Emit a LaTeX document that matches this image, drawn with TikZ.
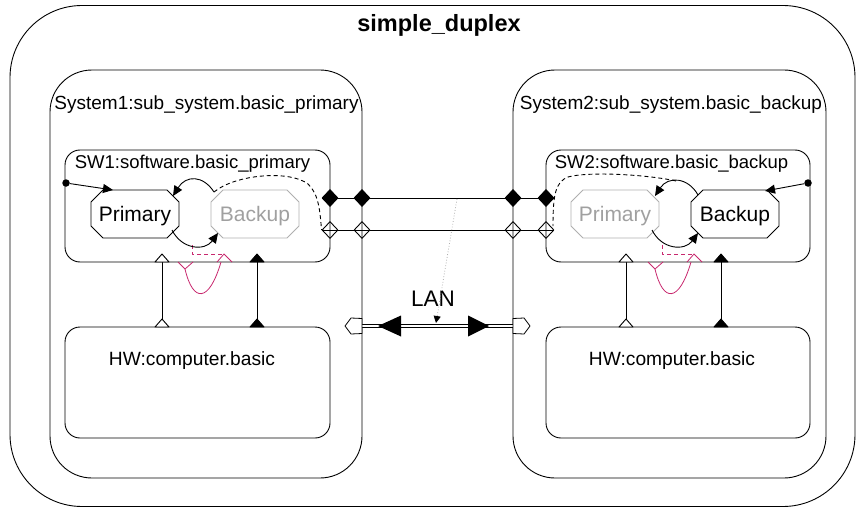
\documentclass[tikz,border=0pt]{standalone}
\usepackage{fontspec}
\setmainfont{Liberation Sans}
\usetikzlibrary{arrows.meta,shapes.geometric}
\definecolor{mg}{RGB}{200,40,110}
\definecolor{ghosttext}{RGB}{160,160,160}
\definecolor{ghostline}{RGB}{175,175,175}
\begin{document}
\begin{tikzpicture}[x=1pt,y=-1pt,line width=0.9pt,line join=round,
  box/.style={draw,rounded corners=#1,inner sep=0pt,outer sep=0pt},
  lbl/.style={inner sep=0pt,anchor=base,font=\fontsize{19}{21}\selectfont},
  swlbl/.style={inner sep=0pt,anchor=base,font=\fontsize{18.5}{20}\selectfont},
  hwlbl/.style={inner sep=0pt,anchor=base,font=\fontsize{19.2}{21}\selectfont},
  stlbl/.style={inner sep=0pt,anchor=base,font=\fontsize{21}{23}\selectfont},
  statebox/.style={inner sep=0pt,outer sep=0pt,minimum width=88pt,minimum height=48pt},
  arr/.style={-{Triangle[length=10pt,width=9pt]}},
  fdia/.style={diamond,draw,fill=black,inner sep=0pt,minimum width=16pt,minimum height=17pt},
  hdia/.style={diamond,draw,inner sep=0pt,minimum width=16pt,minimum height=17pt},
  initdot/.style={circle,fill=black,inner sep=0pt,minimum size=7.5pt},
  mgdash/.style={mg,dash pattern=on 4pt off 3pt},
  bkdash/.style={dash pattern=on 4pt off 3pt},
  octo/.pic={\path[pic actions] (-32,-24) -- (32,-24) -- (44,-12) -- (44,12) -- (32,24) -- (-32,24) -- (-44,12) -- (-44,-12) -- cycle;},
  hd/.pic={\path[pic actions] (-7,0) -- (0,-8) -- (7,0) -- cycle;}
]
\useasboundingbox (0,0) rectangle (856,508);

% outer component
\node[box=72pt,minimum width=845pt,minimum height=501pt] (top) at (432.5,256) {};
\node[font=\bfseries\fontsize{23.5}{25}\selectfont,anchor=base,inner sep=0pt] (title) at (439,32) {simple\_duplex};

% subsystems
\node[box=42pt,minimum width=312pt,minimum height=408pt] (S1) at (206,274) {};
\node[box=42pt,minimum width=313pt,minimum height=408pt] (S2) at (669.5,274) {};
\node[lbl] (S1l) at (206.5,110) {System1:sub\_system.basic\_primary};
\node[lbl] (S2l) at (671,110) {System2:sub\_system.basic\_backup};

% software boxes
\node[box=15pt,minimum width=265pt,minimum height=112pt] (SW1) at (197.5,206) {};
\node[box=15pt,minimum width=264pt,minimum height=112pt] (SW2) at (678,206) {};
\node[swlbl] (SW1l) at (192.5,168) {SW1:software.basic\_primary};
\node[swlbl] (SW2l) at (671.5,168) {SW2:software.basic\_backup};

% hardware boxes
\node[box=15pt,minimum width=265pt,minimum height=111pt] (HW1) at (197.5,382.5) {};
\node[box=15pt,minimum width=264pt,minimum height=111pt] (HW2) at (678,382.5) {};
\node[hwlbl] (HW1l) at (192,365.5) {HW:computer.basic};
\node[hwlbl] (HW2l) at (672,365.5) {HW:computer.basic};

% SW-HW bindings
\foreach \x/\n in {162/a,257/b,626/c,721/d}{
  \coordinate (\n t) at (\x,262);
  \coordinate (\n b) at (\x,327);
}
\draw (at) -- (ab);
\draw (bt) -- (bb);
\draw (ct) -- (cb);
\draw (dt) -- (db);
\pic[draw,fill=white] at (at) {hd};
\pic[draw,fill=white] at (ab) {hd};
\pic[draw,fill=white] at (ct) {hd};
\pic[draw,fill=white] at (cb) {hd};
\pic[draw,fill=black] at (bt) {hd};
\pic[draw,fill=black] at (bb) {hd};
\pic[draw,fill=black] at (dt) {hd};
\pic[draw,fill=black] at (db) {hd};

% magenta bindings
\draw[mgdash] (192,245) -- (192,254) -- (224,254);
\draw[mg,line width=0.8pt] (217,262) -- (224,254) -- (232,262);
\draw[mg,line width=0.8pt] (178,262) -- (185,269) -- (193,262);
\draw[mg,line width=0.8pt] (185,269) .. controls (193,303) and (209,303) .. (221,262);
\draw[mgdash] (662,245) -- (662,254) -- (694,254);
\draw[mg,line width=0.8pt] (687,262) -- (694,254) -- (702,262);
\draw[mg,line width=0.8pt] (648,262) -- (655,269) -- (663,262);
\draw[mg,line width=0.8pt] (655,269) .. controls (663,303) and (679,303) .. (691,262);

% port connections between subsystems
\coordinate (fl) at (322,198);
\coordinate (fr) at (554,198);
\coordinate (hl) at (322,230);
\coordinate (hr) at (554,230);
\draw (fl) -- (fr);
\draw (hl) -- (hr);
\node[fdia] (f1) at (330,198) {};
\node[fdia] (f2) at (362,198) {};
\node[fdia] (f3) at (513,198) {};
\node[fdia] (f4) at (546,198) {};
\node[hdia] (h1) at (330,230) {};
\node[hdia] (h2) at (362,230) {};
\node[hdia] (h3) at (513,230) {};
\node[hdia] (h4) at (546,230) {};

% LAN
\coordinate (lanL) at (362,326);
\coordinate (lanR) at (513,326);
\draw[double,double distance=2.6pt,line width=0.7pt] (lanL) -- (lanR);
\draw[fill=white,line width=0.8pt] (362,318.5) -- (351,318) -- (345,326) -- (351,334) -- (362,333.5) -- cycle;
\draw[fill=white,line width=0.8pt] (513,318.5) -- (524,318) -- (530,326) -- (524,334) -- (513,333.5) -- cycle;
\fill (378,326) -- (401,315.5) -- (401,336.5) -- cycle;
\fill (489,326) -- (468,315.5) -- (468,336.5) -- cycle;
\node[inner sep=0pt,anchor=base,font=\fontsize{22.5}{24}\selectfont] (lan) at (433,306.5) {LAN};
\coordinate (lansrc) at (457,199);
\coordinate (lantgt) at (436,323);
\draw[ghostline,dotted,line width=0.8pt,-{Triangle[length=7pt,width=7pt,color=black]}] (lansrc) -- (lantgt);

% ---- state machine SW1 ----
\node[statebox] (P1) at (135,214) {};
\node[statebox] (B1) at (255,214) {};
\pic[draw] at (P1) {octo};
\pic[draw=ghostline] at (B1) {octo};
\node[stlbl] at (135,221) {Primary};
\node[stlbl,text=ghosttext] at (255,221) {Backup};
\node[initdot] (i1) at (66,183) {};
\coordinate (i1t) at (113,190);
\draw[arr] (i1) -- (i1t);
\coordinate (b1tl) at (214,192);
\coordinate (p1tr) at (173,196);
\draw[arr] (b1tl) .. controls (203,175) and (186,175) .. (p1tr);
\coordinate (p1br) at (172,230);
\coordinate (b1bl) at (218,233);
\draw[arr] (p1br) .. controls (182,250) and (205,251) .. (b1bl);
\draw[bkdash] (b1tl) .. controls (236,174) and (290,170) .. (308,184) .. controls (319,194) and (320,212) .. (h1.west);

% ---- state machine SW2 ----
\node[statebox] (P2) at (615,214) {};
\node[statebox] (B2) at (735,214) {};
\pic[draw=ghostline] at (P2) {octo};
\pic[draw] at (B2) {octo};
\node[stlbl,text=ghosttext] at (615,221) {Primary};
\node[stlbl] at (735,221) {Backup};
\node[initdot] (i2) at (808,183) {};
\coordinate (i2t) at (765,191);
\draw[arr] (i2) -- (i2t);
\coordinate (b2tl) at (698,195);
\coordinate (p2tr) at (655,196);
\draw[arr] (b2tl) .. controls (688,177) and (668,176) .. (p2tr);
\coordinate (p2br) at (652,230);
\coordinate (b2bl) at (698,233);
\draw[arr] (p2br) .. controls (662,250) and (685,251) .. (b2bl);
\coordinate (d2s) at (676,181);
\draw[bkdash] (d2s) .. controls (650,175) and (590,171) .. (568,177) .. controls (555,182) and (553,196) .. (553,226);
\end{tikzpicture}
\end{document}
